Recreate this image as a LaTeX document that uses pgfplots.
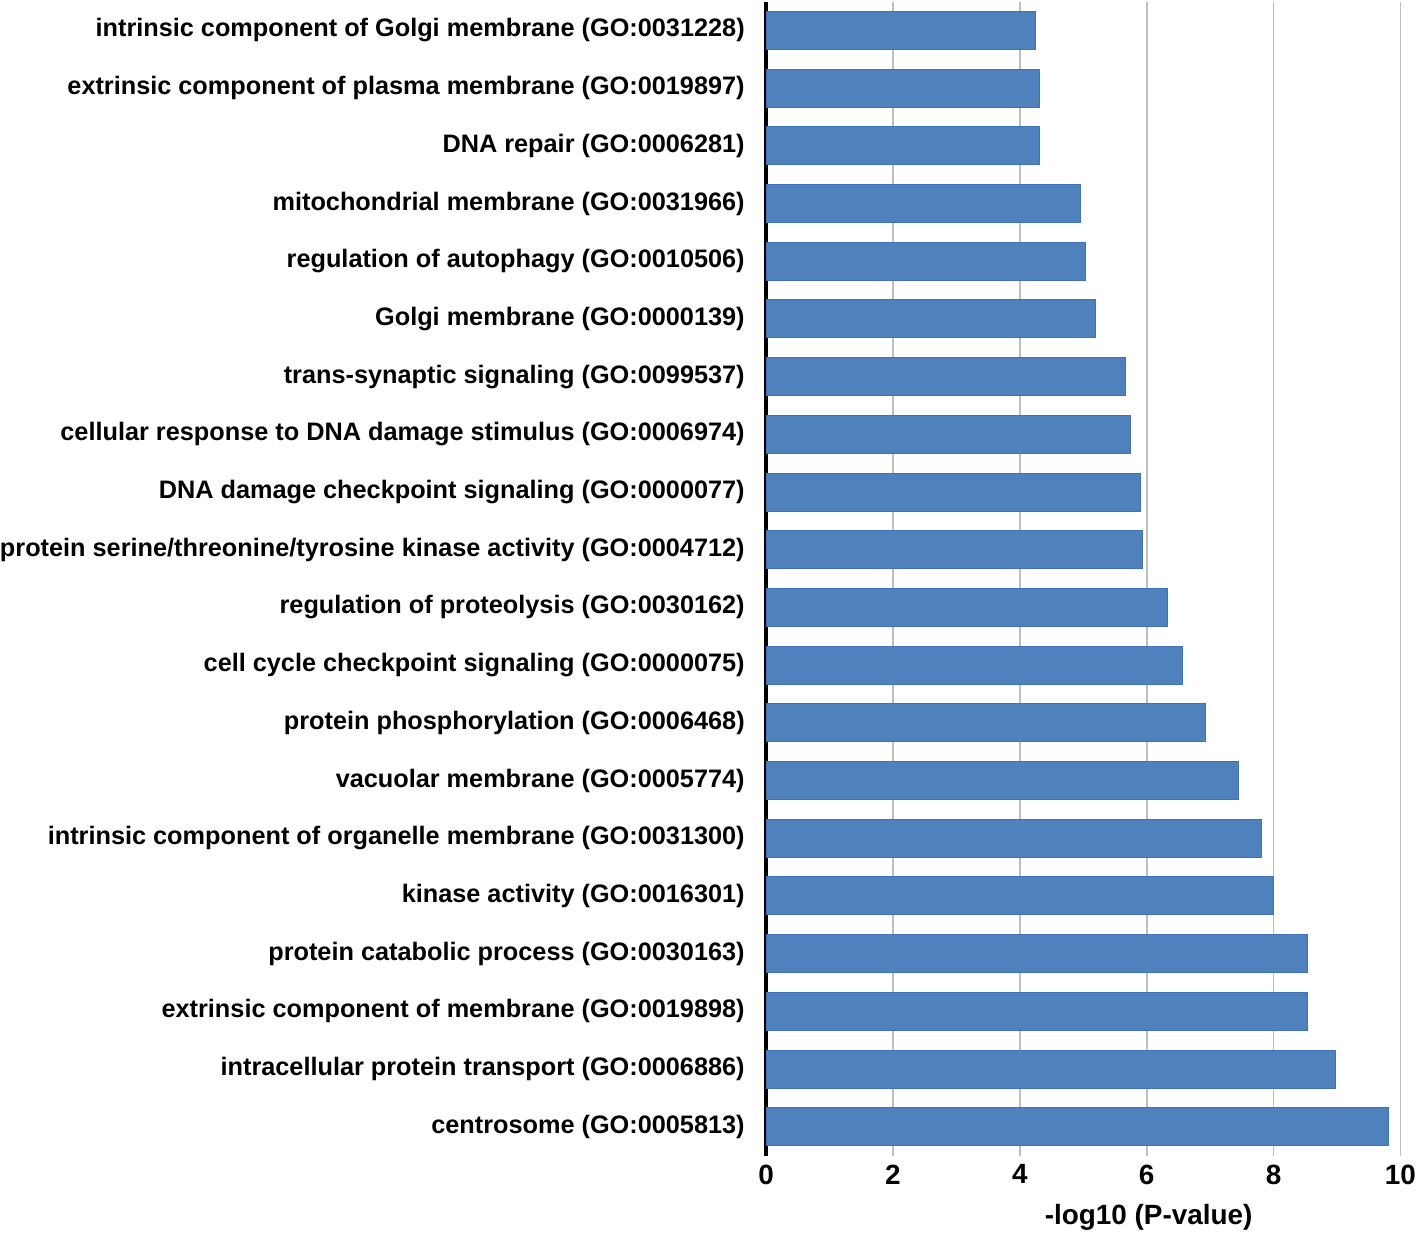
\documentclass[border=0pt]{standalone}
\usepackage{pgfplots}
\pgfplotsset{compat=1.18}
\usepackage{fontspec}
\setmainfont{Liberation Sans}
\definecolor{barblue}{RGB}{79,129,189}
\definecolor{baredge}{RGB}{65,113,185}
\definecolor{gridgray}{RGB}{191,191,191}
\begin{document}
\begin{tikzpicture}
\begin{axis}[
  scale only axis,
  width=317.5bp, height=577.5bp,
  xbar, bar width=19bp,
  xmin=0, xmax=10, ymin=-0.5, ymax=19.5,
  y dir=reverse,
  axis x line*=bottom, axis y line*=left,
  x axis line style={draw=none},
  y axis line style={line width=1.6bp, black},
  xtick={0,2,...,10}, ytick={0,...,19},
  major tick length=0pt,
  xmajorgrids, major grid style={gridgray, line width=0.8bp},
  yticklabels={
    intrinsic component of Golgi membrane (GO:0031228),
    extrinsic component of plasma membrane (GO:0019897),
    DNA repair (GO:0006281),
    mitochondrial membrane (GO:0031966),
    regulation of autophagy (GO:0010506),
    Golgi membrane (GO:0000139),
    trans-synaptic signaling (GO:0099537),
    cellular response to DNA damage stimulus (GO:0006974),
    DNA damage checkpoint signaling (GO:0000077),
    protein serine/threonine/tyrosine kinase activity (GO:0004712),
    regulation of proteolysis (GO:0030162),
    cell cycle checkpoint signaling (GO:0000075),
    protein phosphorylation (GO:0006468),
    vacuolar membrane (GO:0005774),
    intrinsic component of organelle membrane (GO:0031300),
    kinase activity (GO:0016301),
    protein catabolic process (GO:0030163),
    extrinsic component of membrane (GO:0019898),
    intracellular protein transport (GO:0006886),
    centrosome (GO:0005813)},
  /pgf/number format/assume math mode=true,
  yticklabel style={font=\bfseries\fontsize{12.7}{15}\selectfont, inner xsep=0pt, xshift=-10.5bp},
  xticklabel style={font=\bfseries\fontsize{14}{16}\selectfont, inner xsep=0pt, yshift=-1bp},
  xlabel={-log10 (P-value)},
  xlabel style={font=\bfseries\fontsize{14}{16}\selectfont, inner ysep=1bp, at={(axis description cs:0.603,0)}, anchor=north, yshift=-23bp},
]
\addplot[fill=barblue, draw=baredge, line width=0.5bp] coordinates {
  (4.24,0) (4.31,1) (4.31,2) (4.96,3) (5.04,4)
  (5.20,5) (5.67,6) (5.75,7) (5.90,8) (5.94,9)
  (6.32,10) (6.57,11) (6.93,12) (7.45,13) (7.81,14)
  (8.00,15) (8.54,16) (8.54,17) (8.97,18) (9.81,19)
};
\end{axis}
\end{tikzpicture}
\end{document}
